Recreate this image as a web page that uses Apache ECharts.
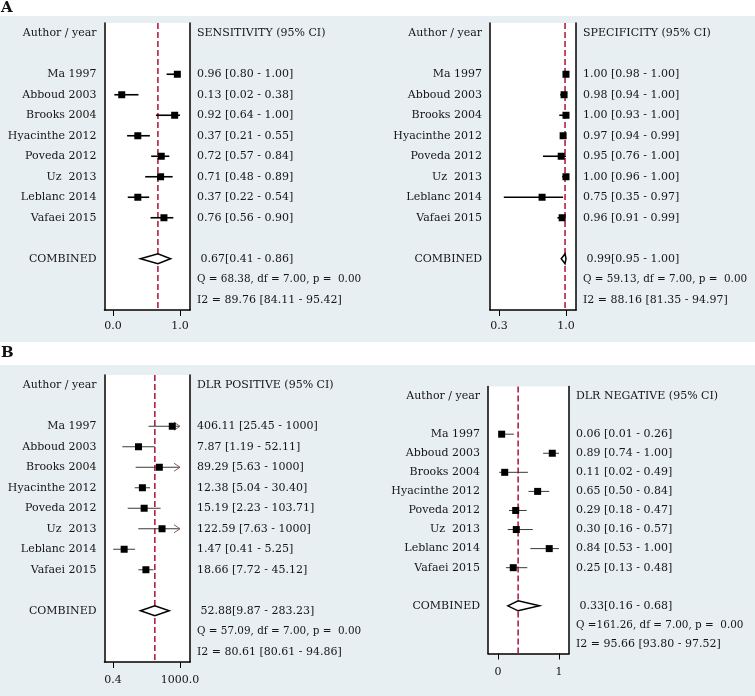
<!DOCTYPE html>
<html>
<head>
<meta charset="utf-8">
<script src="https://cdn.jsdelivr.net/npm/echarts@6/dist/echarts.min.js"></script>
<style>
  html, body { margin: 0; padding: 0; background: #fff; }
  #chart { width: 755px; height: 696px; }
</style>
</head>
<body>
<div id="chart"></div>
<script>
// rows shared by all four panels
const studies = ['Ma 1997', 'Abboud 2003', 'Brooks 2004', 'Hyacinthe 2012', 'Poveda 2012', 'Uz  2013', 'Leblanc 2014', 'Vafaei 2015']

// A - sensitivity
const sensEst = [0.96, 0.13, 0.92, 0.37, 0.72, 0.71, 0.37, 0.76]
const sensLo = [0.80, 0.02, 0.64, 0.21, 0.57, 0.48, 0.22, 0.56]
const sensHi = [1.00, 0.38, 1.00, 0.55, 0.84, 0.89, 0.54, 0.90]
const sensPooled = [0.67, 0.41, 0.86]
const sensQ = 'Q = 68.38, df = 7.00, p =  0.00'
const sensI2 = 'I2 = 89.76 [84.11 - 95.42]'
const sensTicks = [0, 1]

// A - specificity
const specEst = [1.00, 0.98, 1.00, 0.97, 0.95, 1.00, 0.75, 0.96]
const specLo = [0.98, 0.94, 0.93, 0.94, 0.76, 0.96, 0.35, 0.91]
const specHi = [1.00, 1.00, 1.00, 0.99, 1.00, 1.00, 0.97, 0.99]
const specPooled = [0.99, 0.95, 1.00]
const specQ = 'Q = 59.13, df = 7.00, p =  0.00'
const specI2 = 'I2 = 88.16 [81.35 - 94.97]'
const specTicks = [0.3, 1.0]

// B - DLR positive (log axis, upper limits capped at 1000)
const dlrpEst = [406.11, 7.87, 89.29, 12.38, 15.19, 122.59, 1.47, 18.66]
const dlrpLo = [25.45, 1.19, 5.63, 5.04, 2.23, 7.63, 0.41, 7.72]
const dlrpHi = [1000, 52.11, 1000, 30.40, 103.71, 1000, 5.25, 45.12]
const dlrpPooled = [52.88, 9.87, 283.23]
const dlrpQ = 'Q = 57.09, df = 7.00, p =  0.00'
const dlrpI2 = 'I2 = 80.61 [80.61 - 94.86]'
const dlrpTicks = [0.4, 1000]

// B - DLR negative
const dlrnEst = [0.06, 0.89, 0.11, 0.65, 0.29, 0.30, 0.84, 0.25]
const dlrnLo = [0.01, 0.74, 0.02, 0.50, 0.18, 0.16, 0.53, 0.13]
const dlrnHi = [0.26, 1.00, 0.49, 0.84, 0.47, 0.57, 1.00, 0.48]
const dlrnPooled = [0.33, 0.16, 0.68]
const dlrnQ = 'Q =161.26, df = 7.00, p =  0.00'
const dlrnI2 = 'I2 = 95.66 [93.80 - 97.52]'
const dlrnTicks = [0, 1]

const FONT = 'DejaVu Serif'
const INK = '#151515'
const RED = '#b3203f'
const ROWS = 14

const fmt = (v) => (v >= 1000 ? String(v) : v.toFixed(2))

const panels = [
  {
    title: 'SENSITIVITY (95% CI)', est: sensEst, lo: sensLo, hi: sensHi, pooled: sensPooled, q: sensQ, i2: sensI2,
    ticks: sensTicks, dec: 1, axisType: 'value', min: -0.127, max: 1.149,
    grid: { left: 104.5, top: 23, width: 85.5, height: 287 },
    line: '#000', lineWidth: 1.6, labelMargin: 11,
  },
  {
    title: 'SPECIFICITY (95% CI)', est: specEst, lo: specLo, hi: specHi, pooled: specPooled, q: specQ, i2: specI2,
    ticks: specTicks, dec: 1, axisType: 'value', min: 0.206, max: 1.1045,
    grid: { left: 490, top: 23, width: 86, height: 287 },
    line: '#000', lineWidth: 1.6, labelMargin: 11,
  },
  {
    title: 'DLR POSITIVE (95% CI)', est: dlrpEst, lo: dlrpLo, hi: dlrpHi, pooled: dlrpPooled, q: dlrpQ, i2: dlrpI2,
    ticks: dlrpTicks, dec: 1, axisType: 'log', min: 0.148, max: 3215, cap: 1000,
    grid: { left: 104.5, top: 375, width: 85.5, height: 287 },
    line: '#3a3a3a', lineWidth: 1, labelMargin: 13,
  },
  {
    title: 'DLR NEGATIVE (95% CI)', est: dlrnEst, lo: dlrnLo, hi: dlrnHi, pooled: dlrnPooled, q: dlrnQ, i2: dlrnI2,
    ticks: dlrnTicks, dec: 0, axisType: 'value', min: -0.164, max: 1.164,
    grid: { left: 488, top: 386.5, width: 81, height: 267 },
    line: '#3a3a3a', lineWidth: 1, labelMargin: 13,
  },
]

const rowIds = Array.from({ length: ROWS }, (_, i) => String(i))
const leftLabels = ['Author / year', ''].concat(studies, ['', 'COMBINED', '', ''])

// study squares + CI whiskers, pooled diamond
const renderForest = (p) => (params, api) => {
  const est = api.value(0)
  const lo = api.value(1)
  const hi = api.value(2)
  const row = api.value(3)
  const c = api.coord([est, row])
  const l = api.coord([lo, row])
  const h = api.coord([hi, row])
  const y = c[1]
  if (api.value(4) === 1) {
    const d = 5
    return {
      type: 'polygon',
      shape: { points: [[l[0], y], [c[0], y - d], [h[0], y], [c[0], y + d]] },
      style: { fill: '#fff', stroke: '#000', lineWidth: 1.5 },
    }
  }
  const children = [{
    type: 'line',
    shape: { x1: l[0], y1: y, x2: h[0], y2: y },
    style: { stroke: p.line, lineWidth: p.lineWidth },
  }]
  if (p.cap && hi >= p.cap) {
    children.push({
      type: 'polyline',
      shape: { points: [[h[0] - 6, y - 4], [h[0], y], [h[0] - 6, y + 4]] },
      style: { stroke: '#8c5c5c', lineWidth: 1, fill: null },
    })
  }
  children.push({
    type: 'rect',
    shape: { x: c[0] - 3.5, y: y - 3.5, width: 7, height: 7 },
    style: { fill: '#000' },
  })
  return { type: 'group', children }
}

// dashed vertical line at the pooled estimate, full height of the plot box
const renderRef = (params, api) => {
  const x = api.coord([api.value(0), 0])[0]
  const box = params.coordSys
  return {
    type: 'line',
    shape: { x1: x, y1: box.y, x2: x, y2: box.y + box.height },
    style: { stroke: RED, lineWidth: 1.6, lineDash: [6, 3] },
  }
}

const grid = []
const xAxis = []
const yAxis = []
const series = []

panels.forEach((p, i) => {
  const rightLabels = [p.title, ''].concat(
    p.est.map((e, k) => `${fmt(e)} [${fmt(p.lo[k])} - ${fmt(p.hi[k])}]`),
    ['', ` ${fmt(p.pooled[0])}[${fmt(p.pooled[1])} - ${fmt(p.pooled[2])}]`, '{q|' + p.q + '}', p.i2]
  )
  grid.push(Object.assign({
    show: true, backgroundColor: '#fff', borderWidth: 0, containLabel: false, outerBoundsMode: 'none',
  }, p.grid))
  xAxis.push({
    gridIndex: i,
    type: p.axisType,
    logBase: 10,
    min: p.min,
    max: p.max,
    splitLine: { show: false },
    axisLine: { show: true, onZero: false, lineStyle: { color: '#000', width: 1.5 } },
    axisTick: { show: true, length: 6, customValues: p.ticks, lineStyle: { color: '#000', width: 1 } },
    axisLabel: {
      customValues: p.ticks,
      margin: p.labelMargin,
      fontFamily: FONT, fontSize: 11, color: INK,
      formatter: (v) => Number(v).toFixed(p.dec),
    },
  })
  const yBase = {
    gridIndex: i,
    type: 'category',
    inverse: true,
    data: rowIds,
    axisLine: { show: true, onZero: false, lineStyle: { color: '#000', width: 1.5 } },
    axisTick: { show: false },
    splitLine: { show: false },
  }
  yAxis.push(Object.assign({}, yBase, {
    position: 'left',
    axisLabel: {
      interval: 0, margin: 8, fontFamily: FONT, fontSize: 11, color: INK,
      formatter: (v, k) => leftLabels[k],
    },
  }))
  yAxis.push(Object.assign({}, yBase, {
    position: 'right',
    axisLabel: {
      interval: 0, margin: 7, fontFamily: FONT, fontSize: 11, color: INK,
      formatter: (v, k) => rightLabels[k],
      rich: { q: { fontFamily: FONT, fontSize: 10.4, color: INK } },
    },
  }))
  const data = p.est.map((e, k) => [e, p.lo[k], p.hi[k], k + 2, 0])
  data.push([p.pooled[0], p.pooled[1], p.pooled[2], 11, 1])
  series.push({
    type: 'custom',
    coordinateSystem: 'cartesian2d',
    xAxisIndex: i,
    yAxisIndex: i * 2,
    encode: { x: 0, y: 1 },
    renderItem: renderRef,
    data: [[p.pooled[0], 0]],
    silent: true,
    z: 2,
  })
  series.push({
    type: 'custom',
    coordinateSystem: 'cartesian2d',
    xAxisIndex: i,
    yAxisIndex: i * 2,
    encode: { x: 0, y: 3 },
    renderItem: renderForest(p),
    data,
    silent: true,
    z: 3,
  })
})

const myChart = echarts.init(document.getElementById('chart'), null, { renderer: 'canvas' })
myChart.setOption({
  animation: false,
  backgroundColor: '#fff',
  graphic: [
    { type: 'rect', z: -10, shape: { x: 0, y: 16, width: 755, height: 326 }, style: { fill: '#e8eff2' } },
    { type: 'rect', z: -10, shape: { x: 0, y: 365, width: 755, height: 331 }, style: { fill: '#e8eff2' } },
    { type: 'text', left: 1, top: 1, style: { text: 'A', font: 'bold 15px "DejaVu Serif"', fill: '#111' } },
    { type: 'text', left: 1, top: 346, style: { text: 'B', font: 'bold 15px "DejaVu Serif"', fill: '#111' } },
  ],
  grid,
  xAxis,
  yAxis,
  series,
})
</script>
</body>
</html>
